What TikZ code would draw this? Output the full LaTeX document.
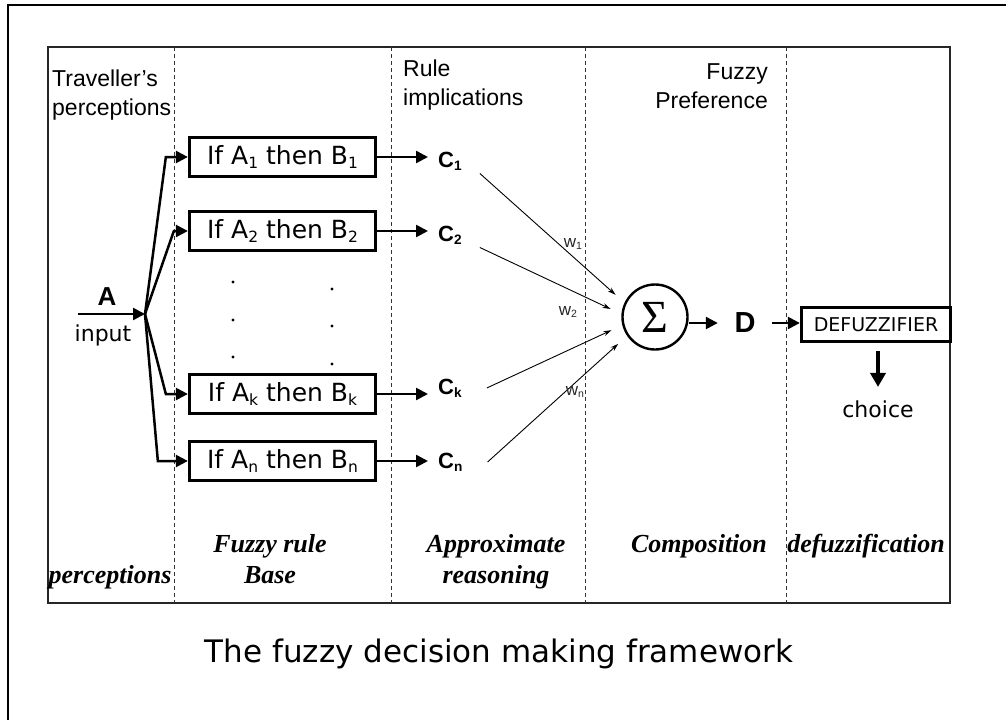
\documentclass[tikz,border=0pt]{standalone}
\usepackage{fontspec}
\setmainfont{Liberation Sans}
\newfontfamily\verdana{DejaVu Sans}
\newfontfamily\timesfont{Liberation Serif}
\usetikzlibrary{positioning,arrows.meta}
\newcommand{\lowidx}[1]{\raisebox{-0.15em}{\scalebox{0.62}{#1}}}
\tikzset{%
  ptr/.style={%
    -{Triangle[length=12pt,width=12pt]},
    line width=2.5pt
  },
  downptr/.style={%
    -{Triangle[length=14pt,width=15pt]},
    line width=4pt
  },
  thinptr/.style={%
    -{Stealth[length=8pt,width=5pt]},
    line width=0.9pt,
    shorten >=12pt
  },
  divider/.style={%
    draw=black!80,
    line width=1pt,
    dash pattern=on 4pt off 3pt
  },
  head/.style={%
    inner sep=0pt,
    font=\fontsize{23}{29}\selectfont
  },
  rulebox/.style={%
    draw,
    line width=3.3pt,
    minimum width=186pt,
    minimum height=39pt,
    inner sep=0pt,
    font=\verdana\fontsize{25}{30}\selectfont
  },
  cnode/.style={%
    anchor=base west,
    inner xsep=10pt,
    inner ysep=3pt,
    font=\bfseries\fontsize{22}{22}\selectfont
  },
  wlbl/.style={%
    text=black!85,
    inner sep=1pt,
    font=\fontsize{17}{17}\selectfont
  },
  stage/.style={%
    anchor=base,
    align=center,
    inner sep=0pt,
    font=\timesfont\bfseries\itshape\fontsize{26}{31}\selectfont
  }
}

\begin{document}
\begin{tikzpicture}[x=1pt,y=-1pt]
    \useasboundingbox (0,0) rectangle (1006,720);
    \draw[line width=2.7pt] (8,720) -- (8,5) -- (1006,5);
    \draw[line width=1.3pt,draw=black!85] (48,47) rectangle (950,603);
    \foreach \x in {174,391,585,786}
        \draw[divider] (\x,47) -- (\x,603);

    % two-line labels sit on the baseline of their last line
    \node[head,anchor=base west,align=left] (trav) at (52,115) {Traveller’s\\perceptions};
    \node[head,anchor=base west,align=left] (impl) at (403,105) {Rule\\implications};
    \node[head,anchor=base east,align=right] (pref) at (768,108) {Fuzzy\\Preference};

    \coordinate (src) at (78,314);
    \coordinate (fan) at (145,314);
    \draw[ptr] (src) -- (fan);
    \node[font=\bfseries\fontsize{26}{26}\selectfont] (a) at (107,297) {A};
    \node[font=\verdana\fontsize{22}{22}\selectfont] (input) at (103,335) {input};

    \node[rulebox] (r1) at (282.5,157) {If A\lowidx{1} then B\lowidx{1}};
    \node[rulebox] (r2) at (282.5,231) {If A\lowidx{2} then B\lowidx{2}};
    \node[rulebox] (rk) at (282.5,394) {If A\lowidx{k} then B\lowidx{k}};
    \node[rulebox] (rn) at (282.5,461) {If A\lowidx{n} then B\lowidx{n}};
    \draw[ptr] (fan) -- ([xshift=-22pt]r1.west) -- (r1.west);
    \draw[ptr] (fan) -- ([xshift=-14pt]r2.west) -- (r2.west);
    \draw[ptr] (fan) -- ([xshift=-22pt]rk.west) -- (rk.west);
    \draw[ptr] (fan) -- ([xshift=-30pt]rn.west) -- (rn.west);

    \foreach \y in {282,320,357}
        \fill (233,\y) circle (1.6pt);
    \foreach \y in {289,326,364}
        \fill (332,\y) circle (1.6pt);

    \node[cnode] (c1) at (428,167) {C\lowidx{1}};
    \node[cnode] (c2) at (428,241) {C\lowidx{2}};
    \node[cnode] (ck) at (428,394) {C\lowidx{k}};
    \node[cnode] (cn) at (428,468) {C\lowidx{n}};
    \draw[ptr] (r1.east) -- (r1.east -| c1.west);
    \draw[ptr] (r2.east) -- (r2.east -| c2.west);
    \draw[ptr] (rk.east) -- (rk.east -| ck.west);
    \draw[ptr] (rn.east) -- (rn.east -| cn.west);

    \node[circle,draw,line width=2.4pt,minimum size=65pt,inner sep=0pt] (sigma) at (655,317)
        {\timesfont\fontsize{46}{46}\selectfont Σ};
    \draw[thinptr] ([xshift=8pt]c1.south east) -- (sigma.155);
    \draw[thinptr] ([xshift=8pt]c2.south east) -- (sigma.175);
    \draw[thinptr] ([xshift=15pt]ck.east) -- (sigma.194);
    \draw[thinptr] ([xshift=15pt]cn.east) -- (sigma.214);
    \node[wlbl] (w1) at (573,244) {w\lowidx{1}};
    \node[wlbl] (w2) at (568,312) {w\lowidx{2}};
    \node[wlbl] (wn) at (575,392) {w\lowidx{n}};

    \node[font=\bfseries\fontsize{29}{29}\selectfont,minimum width=54pt,inner sep=0pt] (d) at (745,323) {D};
    \draw[ptr] (d.west -| sigma.east) -- (d.west);
    \node[draw,line width=3.3pt,minimum width=149pt,minimum height=34pt,inner sep=0pt,
        font=\verdana\fontsize{19}{19}\selectfont] (defuz) at (876,324.5) {DEFUZZIFIER};
    \draw[ptr] (d.east) -- (d.east -| defuz.west);
    \node[font=\verdana\fontsize{22}{22}\selectfont] (choice) at (878,409) {choice};
    \draw[downptr,shorten <=8pt,shorten >=10pt] (defuz.south -| choice.north) -- (choice.north);

    \node[stage] (percs) at (110,583) {perceptions};
    \node[stage] (rulebase) at (270,583) {Fuzzy rule\\Base};
    \node[stage] (approx) at (496,583) {Approximate\\reasoning};
    \node[stage] (comp) at (699,552) {Composition};
    \node[stage] (defz) at (866,552) {defuzzification};

    \node[font=\verdana\fontsize{31}{31}\selectfont,anchor=base] (caption) at (499,662)
        {The fuzzy decision making framework};
\end{tikzpicture}
\end{document}
